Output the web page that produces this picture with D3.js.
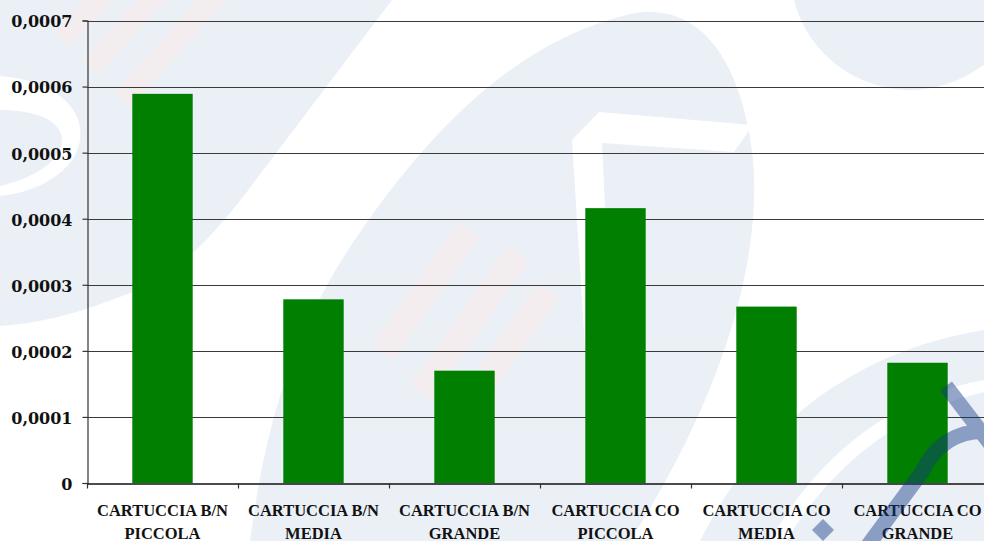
<!DOCTYPE html>
<html>
<head>
<meta charset="utf-8">
<script src="https://cdn.jsdelivr.net/npm/d3@7"></script>
<style>
  html, body { margin: 0; padding: 0; background: #ffffff; }
  svg { display: block; }
</style>
</head>
<body>
<svg id="chart" width="984" height="541"></svg>
<script>
// ---- data ----
const categories = [
  ["CARTUCCIA B/N", "PICCOLA"],
  ["CARTUCCIA B/N", "MEDIA"],
  ["CARTUCCIA B/N", "GRANDE"],
  ["CARTUCCIA CO", "PICCOLA"],
  ["CARTUCCIA CO", "MEDIA"],
  ["CARTUCCIA CO", "GRANDE"]
];
const values = [0.000589, 0.000278, 0.000170, 0.000416, 0.000267, 0.000182];
const yTicks = [0, 0.0001, 0.0002, 0.0003, 0.0004, 0.0005, 0.0006, 0.0007];
const yTickLabels = ["0", "0,0001", "0,0002", "0,0003", "0,0004", "0,0005", "0,0006", "0,0007"];

// ---- layout ----
const W = 984, H = 541;
const margin = { left: 87, top: 20.5, right: -9, bottom: 58 };
const svg = d3.select("#chart");

// ---- faint background watermark (decorative) ----
const wm = svg.append("g").attr("class", "watermark");
const light = "#ebf0f7";
// left diagonal band
wm.append("path").attr("fill", light)
  .attr("d", "M0,0 L392,0 L258,177 C215,235 175,278 133,292 C90,308 55,322 0,326 Z");
// white crescent on the left
wm.append("path").attr("fill", "#ffffff")
  .attr("d", "M0,76 C50,80 85,105 80,140 C76,170 40,192 0,196 L0,186 C35,178 62,160 62,140 C62,120 35,110 0,110 Z");
// big central blob
wm.append("path").attr("fill", light)
  .attr("d", "M250,541 C265,430 290,330 365,225 C435,125 520,40 630,14 C700,0 740,60 752,150 C765,260 720,400 630,541 Z");
// white stroke inside blob
wm.append("path").attr("fill", "#ffffff")
  .attr("d", "M572,140 L599,112 L753,125 L734,152 L602,143 L615,420 L590,430 Z");
// top-right circle
wm.append("ellipse").attr("fill", light).attr("cx", 910).attr("cy", -30).attr("rx", 120).attr("ry", 120);
// bottom-right sweep
wm.append("path").attr("fill", light)
  .attr("d", "M700,541 C760,420 860,350 984,330 L984,541 Z");
wm.append("path").attr("fill", "#ffffff")
  .attr("d", "M770,541 C820,450 900,395 984,380 L984,392 C905,410 835,460 786,541 Z");
// faint pink stripes
const pink = "#fde9e4";
[[62, 40, 70, 22], [90, 68, 110, 22], [122, 100, 160, 22]].forEach(function (s) {
  wm.append("rect").attr("fill", pink).attr("opacity", 0.45)
    .attr("x", 0).attr("y", -s[3] / 2).attr("width", s[2]).attr("height", s[3])
    .attr("transform", "translate(" + s[0] + "," + s[1] + ") rotate(-48)");
});
[[372, 345, 150, 26], [410, 385, 170, 26], [452, 405, 150, 26]].forEach(function (s) {
  wm.append("rect").attr("fill", pink).attr("opacity", 0.45)
    .attr("x", 0).attr("y", 0).attr("width", s[2]).attr("height", s[3])
    .attr("transform", "translate(" + s[0] + "," + s[1] + ") rotate(-55)");
});

// ---- scales ----
const x = d3.scaleBand()
  .domain(d3.range(categories.length))
  .range([margin.left, W - margin.right])
  .paddingInner(0.6)
  .paddingOuter(0.3);

const y = d3.scaleLinear()
  .domain([0, 0.0007])
  .range([H - margin.bottom, margin.top]);

// ---- gridlines ----
svg.append("g").attr("class", "grid")
  .selectAll("line").data(yTicks.slice(1)).join("line")
  .attr("x1", margin.left).attr("x2", W - margin.right)
  .attr("y1", d => Math.round(y(d)) + 0.5).attr("y2", d => Math.round(y(d)) + 0.5)
  .attr("stroke", "#3a3a3a").attr("stroke-width", 1.2);

// ---- bars ----
svg.append("g").attr("class", "bars")
  .selectAll("rect").data(values).join("rect")
  .attr("x", (d, i) => x(i))
  .attr("width", x.bandwidth())
  .attr("y", d => y(d))
  .attr("height", d => y(0) - y(d))
  .attr("fill", "#007f00");

// ---- axes ----
const yAxis = d3.axisLeft(y)
  .tickValues(yTicks)
  .tickFormat((d, i) => yTickLabels[i])
  .tickSize(5)
  .tickPadding(10);

const gy = svg.append("g")
  .attr("transform", "translate(" + (margin.left + 0.5) + ",0)")
  .call(yAxis);
gy.select(".domain").attr("stroke", "#333").attr("stroke-width", 1.2);
gy.selectAll(".tick line").attr("stroke", "#333").attr("stroke-width", 1.2);
gy.selectAll(".tick text")
  .attr("font-family", "'DejaVu Serif', serif")
  .attr("font-weight", "bold")
  .attr("font-size", 16)
  .attr("fill", "#111")
  .attr("dy", "0.4em");

const xAxis = d3.axisBottom(x).tickSize(0).tickFormat("");
const gx = svg.append("g")
  .attr("transform", "translate(0," + (Math.round(y(0)) + 0.5) + ")")
  .call(xAxis);
gx.select(".domain").attr("stroke", "#111").attr("stroke-width", 1.3);

// boundary tick marks between categories
const bounds = d3.range(categories.length + 1).map(i => margin.left + i * x.step());
gx.selectAll(".bound").data(bounds).join("line")
  .attr("class", "bound")
  .attr("x1", d => Math.round(d) + 0.5).attr("x2", d => Math.round(d) + 0.5)
  .attr("y1", 0).attr("y2", 5)
  .attr("stroke", "#333").attr("stroke-width", 1.2);

// category labels
const labels = svg.append("g").attr("class", "xlabels")
  .selectAll("text").data(categories).join("text")
  .attr("x", (d, i) => x(i) + x.bandwidth() / 2)
  .attr("y", 516)
  .attr("text-anchor", "middle")
  .attr("font-family", "'Liberation Serif', serif")
  .attr("font-weight", "bold")
  .attr("font-size", 16.5)
  .attr("fill", "#111");
labels.selectAll("tspan").data(d => d).join("tspan")
  .attr("x", function () { return d3.select(this.parentNode).attr("x"); })
  .attr("dy", (d, i) => i === 0 ? 0 : 23)
  .text(d => d);

// ---- overlay watermark letters (decorative) ----
const ov = svg.append("g").attr("class", "overlay").attr("opacity", 0.45);
ov.append("path").attr("fill", "none").attr("stroke", "#153984").attr("stroke-width", 15)
  .attr("d", "M946,386 L992,446");
ov.append("path").attr("fill", "none").attr("stroke", "#153984").attr("stroke-width", 15)
  .attr("d", "M992,432 C958,428 934,446 922,472 L866,548");
ov.append("path").attr("fill", "#153984")
  .attr("d", "M823,519 L834,530 L823,541 L812,530 Z");
</script>
</body>
</html>
